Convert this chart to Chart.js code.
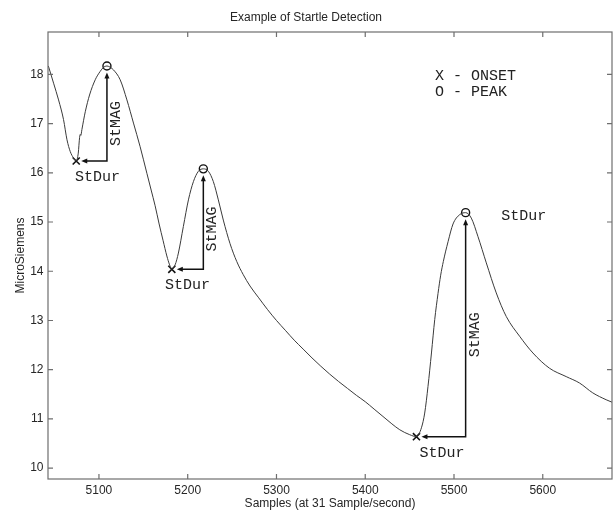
<!DOCTYPE html>
<html lang="en">
<head>
<meta charset="UTF-8">
<title>Example of Startle Detection</title>
<script src="https://cdn.jsdelivr.net/npm/chart.js"></script>
<style>
  html, body { margin: 0; padding: 0; background: #fff; }
</style>
</head>
<body>
<canvas id="startle" width="613" height="510"></canvas>
<script>
// skin conductance trace
const samples = [
  5043, 5048.9, 5054.5, 5060.1, 5064, 5067.7, 5071.4, 5074.4, 5076.7, 5078.2,
  5079, 5079.6, 5080.8, 5084.6, 5089.4, 5095.8, 5101.4, 5105, 5109, 5113,
  5116.4, 5123.9, 5131.5, 5138.9, 5146.4, 5154, 5158.8, 5163.3, 5167.8, 5172.3,
  5176.5, 5179.6, 5182.1, 5185.8, 5189.5, 5195.1, 5200.8, 5206.4, 5212, 5217.6,
  5223.3, 5228.9, 5234.5, 5240.1, 5247.7, 5255.2, 5262.6, 5270.2, 5280, 5290,
  5300, 5310, 5320, 5330, 5340, 5350, 5360, 5370, 5380, 5390,
  5400, 5410, 5420, 5430, 5438.9, 5450.1, 5457.7, 5463.3, 5467, 5470.7,
  5474.6, 5478.3, 5482, 5485, 5488, 5493.3, 5498.9, 5506.4, 5513.1, 5519.5,
  5526.9, 5536.4, 5547.6, 5558.9, 5573.9, 5588.9, 5607.6, 5626.4, 5641.4, 5656.3,
  5671.4, 5678
];
const microSiemens = [
  18.17, 17.82, 17.48, 17.08, 16.67, 16.43, 16.30, 16.24, 16.40, 16.72,
  16.78, 16.76, 16.88, 17.24, 17.58, 17.89, 18.06, 18.14, 18.17, 18.14,
  18.09, 17.89, 17.48, 17.01, 16.53, 15.99, 15.65, 15.33, 14.96, 14.62,
  14.31, 14.13, 14.04, 14.13, 14.37, 14.91, 15.45, 15.82, 16.03, 16.08,
  16.03, 15.82, 15.45, 15.04, 14.56, 14.20, 13.93, 13.70, 13.46, 13.22,
  13.00, 12.80, 12.60, 12.42, 12.24, 12.07, 11.91, 11.76, 11.62, 11.48,
  11.35, 11.20, 11.05, 10.90, 10.78, 10.68, 10.64, 10.82, 11.12, 11.66,
  12.34, 13.02, 13.55, 13.92, 14.20, 14.60, 14.96, 15.15, 15.19, 15.08,
  14.71, 14.17, 13.56, 13.08, 12.68, 12.34, 12.03, 11.86, 11.73, 11.53,
  11.39, 11.34
];

// detected startles
const onsetSample = [5074.4, 5182.1, 5457.7];
const onsetLevel = [16.24, 14.04, 10.64];
const peakSample = [5109, 5217.6, 5513.1];
const peakLevel = [18.17, 16.08, 15.19];

const xTicks = [5100, 5200, 5300, 5400, 5500, 5600];
const yTicks = [10, 11, 12, 13, 14, 15, 16, 17, 18];

const mono = '15px "Liberation Mono", "Courier New", monospace';

// MATLAB style box with inward ticks on all four sides
const framePlugin = {
  id: 'frame',
  afterDraw(chart) {
    const { ctx, chartArea: a, scales: { x, y } } = chart;
    ctx.save();
    ctx.strokeStyle = '#6e6e6e';
    ctx.lineWidth = 1.2;
    ctx.strokeRect(a.left, a.top, a.right - a.left, a.bottom - a.top);
    ctx.beginPath();
    xTicks.forEach(v => {
      const px = x.getPixelForValue(v);
      ctx.moveTo(px, a.bottom); ctx.lineTo(px, a.bottom - 5);
      ctx.moveTo(px, a.top); ctx.lineTo(px, a.top + 5);
    });
    yTicks.forEach(v => {
      const py = y.getPixelForValue(v);
      ctx.moveTo(a.left, py); ctx.lineTo(a.left + 5, py);
      ctx.moveTo(a.right, py); ctx.lineTo(a.right - 5, py);
    });
    ctx.stroke();
    ctx.restore();
  }
};

// StDur / StMAG arrows and the text notes
const notesPlugin = {
  id: 'notes',
  afterDatasetsDraw(chart) {
    const { ctx, chartArea: a, scales: { x, y } } = chart;
    const durShift = [6, 0, 1];
    ctx.save();
    ctx.lineWidth = 1.5;
    ctx.font = mono;
    ctx.textAlign = 'center';
    ctx.textBaseline = 'middle';
    for (let i = 0; i < onsetSample.length; i++) {
      const ox = x.getPixelForValue(onsetSample[i]);
      const oy = y.getPixelForValue(onsetLevel[i]);
      const px = x.getPixelForValue(peakSample[i]);
      const py = y.getPixelForValue(peakLevel[i]);

      ctx.strokeStyle = '#111';
      ctx.fillStyle = '#111';
      ctx.beginPath();
      ctx.moveTo(ox + 9, oy); ctx.lineTo(px, oy); ctx.lineTo(px, py + 10);
      ctx.stroke();
      // left arrow head
      ctx.beginPath();
      ctx.moveTo(ox + 5, oy); ctx.lineTo(ox + 11, oy - 2.5); ctx.lineTo(ox + 11, oy + 2.5);
      ctx.closePath(); ctx.fill();
      // up arrow head
      ctx.beginPath();
      ctx.moveTo(px, py + 6.5); ctx.lineTo(px - 2.5, py + 12.5); ctx.lineTo(px + 2.5, py + 12.5);
      ctx.closePath(); ctx.fill();

      ctx.fillStyle = '#222';
      ctx.fillText('StDur', (ox + px) / 2 + durShift[i], oy + 16);
      ctx.save();
      ctx.translate(px + 9, (oy + py) / 2 + 10);
      ctx.rotate(-Math.PI / 2);
      ctx.fillText('StMAG', 0, 0);
      ctx.restore();
      if (i === onsetSample.length - 1) {
        ctx.fillText('StDur', px + 58, py + 3);
      }
    }
    ctx.fillStyle = '#222';
    ctx.textAlign = 'left';
    ctx.fillText('X - ONSET', a.left + 387, a.top + 44);
    ctx.fillText('O - PEAK', a.left + 387, a.top + 60);
    ctx.restore();
  }
};

Chart.defaults.font.family = '"Liberation Sans", Arial, sans-serif';
Chart.defaults.font.size = 12;
Chart.defaults.color = '#262626';

new Chart(document.getElementById('startle'), {
  type: 'scatter',
  data: {
    datasets: [
      {
        label: 'trace',
        data: samples.map((s, i) => ({ x: s, y: microSiemens[i] })),
        showLine: true,
        borderColor: '#3a3a3a',
        borderWidth: 1,
        pointRadius: 0,
        cubicInterpolationMode: 'monotone'
      },
      {
        label: 'onset',
        data: onsetSample.map((s, i) => ({ x: s, y: onsetLevel[i] })),
        pointStyle: 'crossRot',
        pointRadius: 5,
        borderColor: '#111',
        borderWidth: 1.6
      },
      {
        label: 'peak',
        data: peakSample.map((s, i) => ({ x: s, y: peakLevel[i] })),
        pointStyle: 'circle',
        pointRadius: 4,
        backgroundColor: 'rgba(0,0,0,0)',
        borderColor: '#111',
        borderWidth: 1.4
      }
    ]
  },
  options: {
    responsive: false,
    animation: false,
    layout: { autoPadding: false, padding: { left: 0, right: 1, top: 0, bottom: 0 } },
    plugins: {
      legend: { display: false },
      tooltip: { enabled: false },
      title: {
        display: true,
        text: 'Example of Startle Detection',
        font: { size: 12, weight: 'normal' },
        padding: { top: 10, bottom: 7.6 }
      }
    },
    scales: {
      x: {
        type: 'linear',
        min: 5042.6,
        max: 5678,
        grid: { display: false, drawTicks: false },
        border: { display: false },
        afterBuildTicks: s => { s.ticks = xTicks.map(v => ({ value: v })); },
        afterFit: s => { s.height = 31; },
        ticks: { padding: 4.5, maxRotation: 0, callback: v => v },
        title: {
          display: true,
          text: 'Samples (at 31 Sample/second)',
          font: { size: 12, lineHeight: 1 },
          padding: { top: 0, bottom: 0 }
        }
      },
      y: {
        min: 9.78,
        max: 18.86,
        grid: { display: false, drawTicks: false },
        border: { display: false },
        afterBuildTicks: s => { s.ticks = yTicks.map(v => ({ value: v })); },
        afterFit: s => { s.width = 48; },
        ticks: { padding: 4.5, callback: v => v },
        title: {
          display: true,
          text: 'MicroSiemens',
          font: { size: 12, lineHeight: 1 },
          padding: { top: 15, bottom: 0 }
        }
      }
    }
  },
  plugins: [framePlugin, notesPlugin]
});
</script>
</body>
</html>
